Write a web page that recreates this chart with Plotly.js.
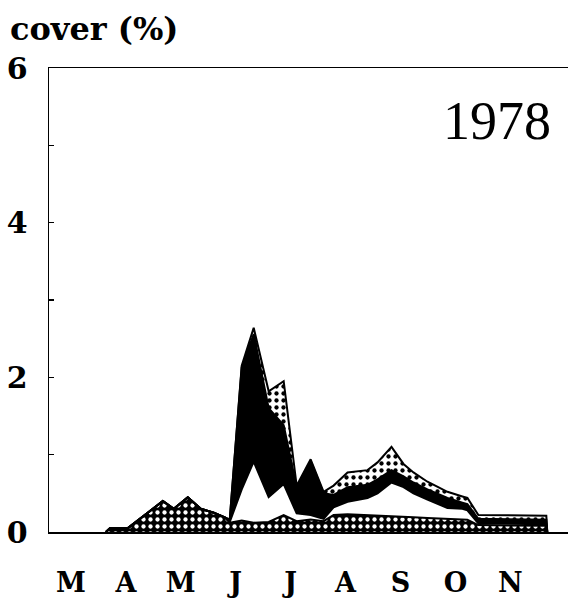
<!DOCTYPE html>
<html>
<head>
<meta charset="utf-8">
<script src="https://cdn.plot.ly/plotly-3.0.1.min.js"></script>
<style>html,body{margin:0;padding:0;background:#fff;}#chart{width:569px;height:599px;}</style>
</head>
<body>
<div id="chart"></div>
<script>
// x in month units (3 = March ... 11 = November)
const dates = [3.636,3.709,4.036,4.673,4.873,5.127,5.364,5.600,5.800,5.891,6.109,6.327,6.600,6.873,7.109,7.364,7.600,7.782,8.036,8.400,8.582,8.836,9.055,9.236,9.491,9.855,10.127,10.218,10.418,11.655,11.673];
// layer values (cover %), stacked bottom to top
const checkered = [0,0.05,0.05,0.40,0.30,0.45,0.30,0.25,0.19,0.12,0.15,0.12,0.13,0.22,0.14,0.16,0.14,0.22,0.23,0.22,0.21,0.20,0.20,0.19,0.18,0.17,0.16,0.16,0.09,0.08,0];
const blank     = [0,0,0,0,0,0,0,0,0,0.01,0.40,0.79,0.32,0.40,0.10,0.06,0.03,0.10,0.16,0.22,0.29,0.44,0.38,0.31,0.24,0.14,0.14,0.12,0.02,0.02,0];
const solid     = [0,0,0,0,0,0,0,0,0,0.03,1.58,1.65,1.15,0.76,0.34,0.70,0.33,0.16,0.19,0.17,0.18,0.16,0.14,0.14,0.13,0.13,0.08,0.08,0.06,0.06,0];
const dotted    = [0,0,0,0,0,0,0,0,0,0,0.02,0.08,0.22,0.57,0.02,0.02,0.02,0.12,0.19,0.19,0.22,0.30,0.16,0.13,0.10,0.08,0.08,0.08,0.05,0.05,0];
const monthVals = [3,4,5,6,7,8,9,10,11];
const monthText = ['M','A','M','J','J','A','S','O','N'];
const yVals = [0,1,2,3,4,5,6];
const yText = ['0','','2','','4','','6'];

const line = {color:'black', width:2, shape:'linear'};
const traces = [
  {x:dates, y:checkered, stackgroup:'one', mode:'lines', line:line,
   fillcolor:'black', fillpattern:{shape:'.', bgcolor:'black', fgcolor:'white', size:7, solidity:0.3}},
  {x:dates, y:blank, stackgroup:'one', mode:'lines', line:line, fillcolor:'white'},
  {x:dates, y:solid, stackgroup:'one', mode:'lines', line:line, fillcolor:'black'},
  {x:dates, y:dotted, stackgroup:'one', mode:'lines', line:line,
   fillcolor:'white', fillpattern:{shape:'.', bgcolor:'white', fgcolor:'black', size:7, solidity:0.3}}
];

const layout = {
  width:569, height:599,
  margin:{l:49, r:1, t:68, b:67},
  paper_bgcolor:'white', plot_bgcolor:'white',
  showlegend:false,
  font:{family:'DejaVu Serif', color:'black'},
  xaxis:{range:[2.6,12.05], showgrid:false, zeroline:false, showline:true, mirror:true,
         linecolor:'black', linewidth:1.5, tickvals:monthVals, ticktext:monthText,
         ticks:'', tickfont:{family:'DejaVu Serif', size:27, color:'black', weight:'bold'}, ticklabelstandoff:26},
  yaxis:{range:[0,6], showgrid:false, zeroline:false, showline:true, linecolor:'black', linewidth:1.5,
         tickvals:yVals, ticktext:yText, ticks:'inside', ticklen:5, tickwidth:1.2, tickcolor:'black',
         tickfont:{family:'DejaVu Serif', size:30, color:'black', weight:'bold'}, ticklabelstandoff:14},
  annotations:[
    {text:'cover (%)', xref:'paper', yref:'paper', x:-0.079, y:1.083, xanchor:'left', yanchor:'middle',
     showarrow:false, font:{family:'DejaVu Serif', size:32, color:'black', weight:'bold'}},
    {text:'1978', xref:'paper', yref:'paper', x:0.971, y:0.886, xanchor:'right', yanchor:'middle',
     showarrow:false, font:{family:'Liberation Serif', size:54, color:'black'}}
  ]
};
Plotly.newPlot('chart', traces, layout, {staticPlot:true, displayModeBar:false});
</script>
</body>
</html>
